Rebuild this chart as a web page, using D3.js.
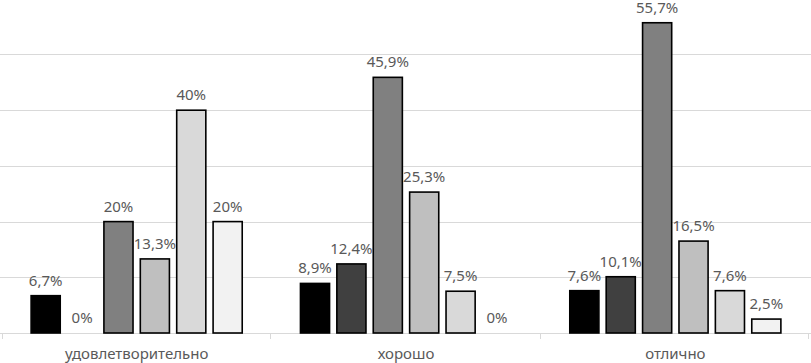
<!DOCTYPE html>
<html lang="ru">
<head>
	<meta charset="UTF-8">
	<title>Bars</title>
	<style>
		body { margin: 0; background: #fff; }
		.grid line { stroke: #d9d9d9; stroke-width: 1; shape-rendering: crispEdges; }
		.Axis path, .Axis line { stroke: #d9d9d9; shape-rendering: crispEdges; }
		.Axis text { font-family: "Noto Sans", sans-serif; font-size: 15px; fill: #595959; }
		.lbl { font-family: "Noto Sans", sans-serif; font-size: 15px; fill: #595959; }
	</style>
	<script src="https://d3js.org/d3.v7.min.js"></script>
</head>
<body>
	<script type="text/javascript">
		var categories = ["удовлетворительно", "хорошо", "отлично"];
		var seriesNames = ["s1", "s2", "s3", "s4", "s5", "s6"];
		var seriesColors = ["#000000", "#404040", "#808080", "#bfbfbf", "#d9d9d9", "#f2f2f2"];
		var values = [
			[6.7, 0, 20, 13.3, 40, 20],
			[8.9, 12.4, 45.9, 25.3, 7.5, 0],
			[7.6, 10.1, 55.7, 16.5, 7.6, 2.5]
		];
		var gridTicks = [10, 20, 30, 40, 50];

		const w = 811, h = 363;

		const svg = d3.select("body").append("svg")
			.attr("width", w).attr("height", h);

		var x0 = d3.scaleBand().domain(categories).range([2, 810]).padding(0);
		var x1 = d3.scaleBand().domain(seriesNames)
			.range([0, x0.bandwidth()])
			.paddingInner(0.2).paddingOuter(0.8);
		var y = d3.scaleLinear().domain([0, 60]).range([333, -1.2]);

		// gridlines
		svg.append("g").attr("class", "grid")
		   .selectAll("line").data(gridTicks).enter()
		   .append("line")
		   .attr("x1", 0).attr("x2", w)
		   .attr("y1", d => Math.round(y(d)) + 0.5)
		   .attr("y2", d => Math.round(y(d)) + 0.5);

		// x axis
		var xAxis = d3.axisBottom(x0).tickSize(0).tickPadding(15);
		var ax = svg.append("g").attr("class", "Axis x")
		   .attr("transform", "translate(0,333.5)")
		   .call(xAxis);
		ax.select(".domain").attr("d", "M0,0H" + w);
		// boundary ticks between categories
		ax.selectAll(".bnd").data([2, 270, 540, 808]).enter()
		  .append("line").attr("class", "bnd")
		  .attr("x1", d => d + 0.5).attr("x2", d => d + 0.5)
		  .attr("y1", 0).attr("y2", 5);

		var rows = [];
		values.forEach(function(row, i) {
			row.forEach(function(v, j) {
				rows.push({ cat: categories[i], s: seriesNames[j], v: v, c: seriesColors[j] });
			});
		});

		svg.append("g").selectAll("rect").data(rows.filter(d => d.v > 0)).enter()
		   .append("rect")
		   .attr("x", d => x0(d.cat) + x1(d.s))
		   .attr("y", d => y(d.v))
		   .attr("width", x1.bandwidth())
		   .attr("height", d => y(0) - y(d.v))
		   .attr("fill", d => d.c)
		   .attr("stroke", "#000")
		   .attr("stroke-width", 1.6);

		svg.append("g").selectAll("text").data(rows).enter()
		   .append("text").attr("class", "lbl")
		   .attr("text-anchor", "middle")
		   .attr("x", d => x0(d.cat) + x1(d.s) + x1.bandwidth() / 2)
		   .attr("y", d => y(d.v) - 10)
		   .text(d => String(d.v).replace(".", ",") + "%");
	</script>
</body>
</html>
